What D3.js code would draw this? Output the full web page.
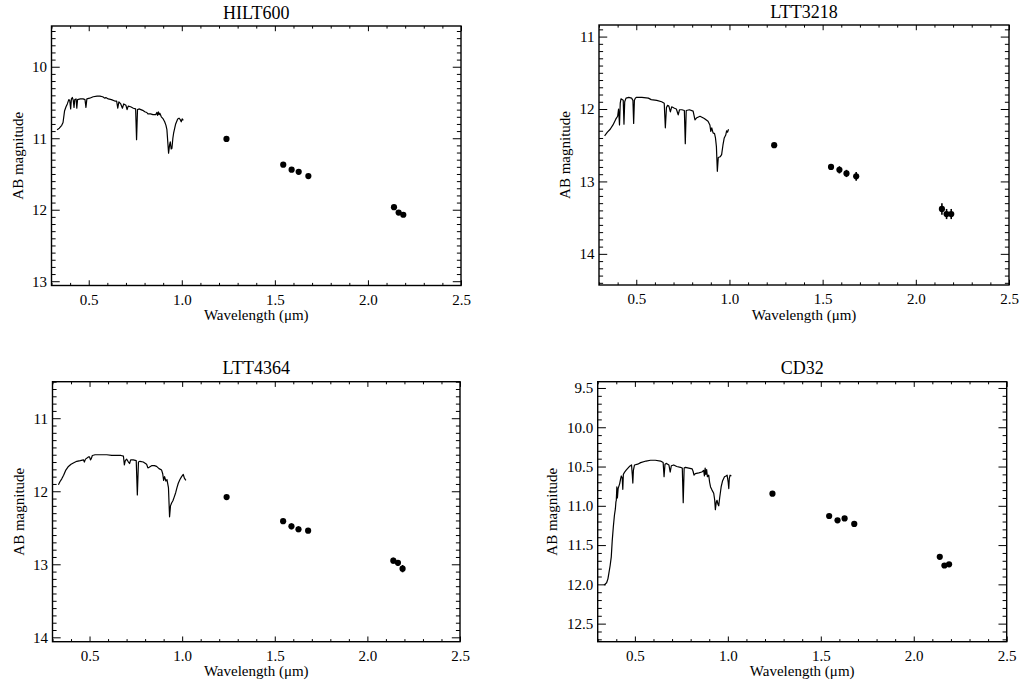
<!DOCTYPE html>
<html><head><meta charset="utf-8">
<script src="https://cdn.jsdelivr.net/npm/d3@7"></script>
<style>
body{margin:0;background:#fff}
text{font-family:"Liberation Serif","Times New Roman",serif;fill:#000}
</style>
</head><body>
<svg id="c" width="1020" height="686"></svg>
<script>
// ---------------- DATA ----------------
const titles = ["HILT600", "LTT3218", "LTT4364", "CD32"];
const xTicks = [0.5, 1.0, 1.5, 2.0, 2.5];
const xRange = [0.3, 2.5];

// photometric band wavelengths (micron)
const photWave = [1.24, 1.545, 1.59, 1.628, 1.68, 2.14, 2.165, 2.19];

const hilt600PhotMag = [11.01, 11.37, 11.44, 11.47, 11.53, 11.965, 12.04, 12.07];
const hilt600PhotErr = [0.01, 0.015, 0.015, 0.015, 0.015, 0.02, 0.02, 0.02];
const ltt3218PhotMag = [12.50, 12.80, 12.84, 12.89, 12.93, 13.38, 13.45, 13.45];
const ltt3218PhotErr = [0.02, 0.04, 0.05, 0.05, 0.06, 0.08, 0.07, 0.07];
const ltt4364PhotMag = [12.08, 12.41, 12.48, 12.52, 12.54, 12.95, 12.98, 13.06];
const ltt4364PhotErr = [0.02, 0.03, 0.04, 0.04, 0.03, 0.04, 0.04, 0.05];
const cd32PhotMag = [10.845, 11.13, 11.185, 11.16, 11.23, 11.65, 11.76, 11.745];
const cd32PhotErr = [0.01, 0.015, 0.015, 0.015, 0.015, 0.02, 0.02, 0.02];

// spectra
const hilt600SpecWave = [0.330,0.342,0.355,0.362,0.370,0.378,0.385,0.393,0.398,0.403,0.407,0.412,0.417,0.421,0.425,0.432,0.436,0.440,0.455,0.470,0.480,0.485,0.490,0.505,0.524,0.545,0.560,0.575,0.587,0.592,0.605,0.622,0.640,0.650,0.656,0.662,0.672,0.681,0.688,0.700,0.706,0.712,0.725,0.740,0.752,0.757,0.762,0.770,0.790,0.801,0.812,0.818,0.832,0.845,0.860,0.866,0.870,0.874,0.878,0.882,0.890,0.900,0.908,0.915,0.920,0.929,0.934,0.938,0.943,0.947,0.952,0.956,0.962,0.967,0.978,0.985,0.992,0.997,1.002,1.008];
const hilt600SpecMag  = [10.88,10.86,10.82,10.78,10.62,10.56,10.52,10.46,10.47,10.59,10.45,10.43,10.47,10.57,10.46,10.45,10.58,10.46,10.45,10.45,10.46,10.57,10.45,10.44,10.42,10.41,10.41,10.42,10.44,10.43,10.45,10.46,10.48,10.48,10.58,10.49,10.52,10.58,10.52,10.54,10.60,10.55,10.56,10.58,10.59,11.02,10.60,10.59,10.61,10.63,10.64,10.66,10.66,10.67,10.67,10.64,10.68,10.63,10.67,10.65,10.70,10.73,10.77,10.82,10.88,11.21,11.10,11.05,11.15,11.14,11.00,10.93,10.86,10.80,10.73,10.72,10.74,10.77,10.73,10.75];

const ltt3218SpecWave = [0.330,0.345,0.360,0.375,0.390,0.400,0.405,0.410,0.414,0.418,0.424,0.430,0.434,0.438,0.445,0.460,0.475,0.482,0.486,0.490,0.495,0.500,0.530,0.565,0.580,0.610,0.636,0.650,0.656,0.662,0.668,0.675,0.683,0.690,0.705,0.715,0.725,0.732,0.745,0.758,0.763,0.768,0.785,0.805,0.815,0.825,0.842,0.865,0.885,0.895,0.900,0.905,0.912,0.920,0.925,0.930,0.935,0.940,0.950,0.958,0.965,0.972,0.980,0.985,0.990,0.995];
const ltt3218SpecMag  = [12.37,12.32,12.28,12.22,12.14,12.10,12.00,12.22,11.92,11.86,11.87,11.88,12.21,11.90,11.85,11.84,11.85,11.88,12.20,11.88,11.85,11.84,11.84,11.85,11.87,11.88,11.90,11.92,12.26,11.98,11.95,11.96,12.04,11.97,11.99,12.00,12.08,12.01,12.01,12.02,12.48,12.02,12.01,12.03,12.15,12.12,12.10,12.13,12.17,12.22,12.31,12.26,12.33,12.34,12.40,12.52,12.86,12.67,12.66,12.63,12.50,12.40,12.36,12.30,12.32,12.28];

const ltt4364SpecWave = [0.332,0.340,0.350,0.360,0.372,0.386,0.400,0.415,0.431,0.450,0.467,0.472,0.478,0.494,0.500,0.505,0.510,0.515,0.530,0.560,0.593,0.620,0.650,0.670,0.683,0.688,0.693,0.700,0.710,0.716,0.722,0.736,0.752,0.758,0.764,0.772,0.790,0.808,0.815,0.822,0.835,0.850,0.862,0.875,0.889,0.895,0.900,0.905,0.912,0.918,0.926,0.932,0.937,0.943,0.950,0.957,0.965,0.972,0.979,0.988,0.997,1.006,1.012,1.020];
const ltt4364SpecMag  = [11.91,11.87,11.83,11.78,11.71,11.66,11.63,11.61,11.59,11.58,11.57,11.60,11.56,11.53,11.53,11.57,11.55,11.51,11.50,11.50,11.50,11.51,11.51,11.51,11.52,11.64,11.58,11.56,11.60,11.62,11.57,11.57,11.58,12.05,11.60,11.59,11.60,11.63,11.68,11.67,11.65,11.65,11.66,11.69,11.71,11.76,11.85,11.80,11.86,11.84,11.95,12.35,12.20,12.16,12.13,12.08,12.02,11.95,11.89,11.84,11.80,11.77,11.82,11.85];

const cd32SpecWave = [0.334,0.348,0.355,0.360,0.367,0.373,0.378,0.384,0.390,0.395,0.398,0.400,0.403,0.406,0.410,0.414,0.418,0.423,0.427,0.432,0.435,0.438,0.445,0.452,0.459,0.470,0.482,0.486,0.489,0.492,0.498,0.515,0.531,0.560,0.584,0.610,0.638,0.652,0.657,0.662,0.670,0.683,0.690,0.696,0.709,0.725,0.745,0.755,0.760,0.765,0.772,0.790,0.808,0.813,0.818,0.825,0.844,0.860,0.870,0.874,0.878,0.882,0.886,0.890,0.897,0.902,0.907,0.915,0.924,0.929,0.933,0.938,0.942,0.947,0.951,0.956,0.964,0.972,0.982,0.990,0.996,1.002,1.005,1.008,1.012,1.019];
const cd32SpecMag  = [12.01,11.98,11.93,11.86,11.76,11.65,11.45,11.27,11.12,11.04,10.95,10.93,10.76,10.90,10.78,10.75,10.72,10.66,10.62,10.65,10.79,10.60,10.57,10.55,10.53,10.50,10.48,10.60,10.71,10.55,10.48,10.47,10.45,10.43,10.42,10.42,10.43,10.45,10.63,10.47,10.46,10.48,10.57,10.49,10.48,10.50,10.51,10.52,10.96,10.52,10.51,10.52,10.53,10.56,10.61,10.59,10.58,10.57,10.55,10.62,10.52,10.60,10.54,10.63,10.61,10.70,10.76,10.80,10.84,10.92,11.05,10.95,10.93,10.98,11.00,10.90,10.76,10.68,10.63,10.62,10.61,10.70,10.78,10.65,10.61,10.62];

// y axes
const hilt600YRange = [9.43, 13.06];
const ltt3218YRange = [10.84, 14.43];
const ltt4364YRange = [10.50, 14.06];
const cd32YRange = [9.42, 12.73];
const hilt600YTicks = [10, 11, 12, 13];
const ltt3218YTicks = [11, 12, 13, 14];
const ltt4364YTicks = [11, 12, 13, 14];
const cd32YTicks = [9.5, 10.0, 10.5, 11.0, 11.5, 12.0, 12.5];

// ---------------- DRAWING ----------------
const svg = d3.select("#c");
const panels = [
  {box:[51.5, 461, 26, 285.5], specW:hilt600SpecWave, specM:hilt600SpecMag, pm:hilt600PhotMag, pe:hilt600PhotErr, yr:hilt600YRange, yt:hilt600YTicks, fmt:d3.format("d"), ylab:28.5},
  {box:[599, 1009, 25, 285], specW:ltt3218SpecWave, specM:ltt3218SpecMag, pm:ltt3218PhotMag, pe:ltt3218PhotErr, yr:ltt3218YRange, yt:ltt3218YTicks, fmt:d3.format("d"), ylab:29},
  {box:[52.5, 460, 381.7, 641.7], specW:ltt4364SpecWave, specM:ltt4364SpecMag, pm:ltt4364PhotMag, pe:ltt4364PhotErr, yr:ltt4364YRange, yt:ltt4364YTicks, fmt:d3.format("d"), ylab:29},
  {box:[597.7, 1006.7, 381.7, 641.7], specW:cd32SpecWave, specM:cd32SpecMag, pm:cd32PhotMag, pe:cd32PhotErr, yr:cd32YRange, yt:cd32YTicks, fmt:d3.format(".1f"), ylab:41}
];

function styleAxis(g, size){
  g.select(".domain").remove();
  g.selectAll("line").attr("stroke","#000").attr("stroke-width",1);
  g.attr("font-family",null).attr("font-size",null);
  g.selectAll("text").style("font-family",'"Liberation Serif","Times New Roman",serif').style("font-size",size+"px").attr("fill","#000");
}

panels.forEach((p, i) => {
  const [x0, x1, y0, y1] = p.box;
  const x = d3.scaleLinear().domain(xRange).range([x0, x1]);
  const y = d3.scaleLinear().domain(p.yr).range([y0, y1]);
  const g = svg.append("g");
  const xl = 0.0201*(y1-y0), yl = 0.0201*(x1-x0);

  const xMinor = d3.range(3, 26).map(v => v/10).filter(v => !xTicks.some(t => Math.abs(t-v)<1e-6));
  const yMinor = d3.range(Math.ceil(p.yr[0]*10), Math.floor(p.yr[1]*10)+1).map(v => v/10).filter(v => !p.yt.some(t => Math.abs(t-v)<1e-6));

  // bottom axis
  g.append("g").attr("transform",`translate(0,${y1})`)
    .call(d3.axisBottom(x).tickValues(xTicks).tickSize(-xl).tickPadding(8.5).tickFormat(d3.format(".1f")))
    .call(a=>styleAxis(a,15));
  g.append("g").attr("transform",`translate(0,${y1})`)
    .call(d3.axisBottom(x).tickValues(xMinor).tickSize(-xl/2).tickFormat(""))
    .call(a=>styleAxis(a,15));
  // top axis
  g.append("g").attr("transform",`translate(0,${y0})`)
    .call(d3.axisTop(x).tickValues(xTicks).tickSize(-xl).tickFormat(""))
    .call(a=>styleAxis(a,15));
  g.append("g").attr("transform",`translate(0,${y0})`)
    .call(d3.axisTop(x).tickValues(xMinor).tickSize(-xl/2).tickFormat(""))
    .call(a=>styleAxis(a,15));
  // left axis
  g.append("g").attr("transform",`translate(${x0},0)`)
    .call(d3.axisLeft(y).tickValues(p.yt).tickSize(-yl).tickPadding(4.5).tickFormat(p.fmt))
    .call(a=>styleAxis(a,15));
  g.append("g").attr("transform",`translate(${x0},0)`)
    .call(d3.axisLeft(y).tickValues(yMinor).tickSize(-yl/2).tickFormat(""))
    .call(a=>styleAxis(a,15));
  // right axis
  g.append("g").attr("transform",`translate(${x1},0)`)
    .call(d3.axisRight(y).tickValues(p.yt).tickSize(-yl).tickFormat(""))
    .call(a=>styleAxis(a,15));
  g.append("g").attr("transform",`translate(${x1},0)`)
    .call(d3.axisRight(y).tickValues(yMinor).tickSize(-yl/2).tickFormat(""))
    .call(a=>styleAxis(a,15));

  // frame
  g.append("rect").attr("x",x0).attr("y",y0).attr("width",x1-x0).attr("height",y1-y0)
    .attr("fill","none").attr("stroke","#000").attr("stroke-width",1.4);

  // spectrum
  const spec = p.specW.map((w,k)=>[w, p.specM[k]]);
  g.append("path").datum(spec)
    .attr("d", d3.line().x(d=>x(d[0])).y(d=>y(d[1])))
    .attr("fill","none").attr("stroke","#000").attr("stroke-width",1.2).attr("stroke-linejoin","round");

  // photometry with error bars
  const phot = photWave.map((w,k)=>({w, m:p.pm[k], e:p.pe[k]}));
  g.selectAll(".eb").data(phot).enter().append("line")
    .attr("x1",d=>x(d.w)).attr("x2",d=>x(d.w))
    .attr("y1",d=>y(d.m-d.e)).attr("y2",d=>y(d.m+d.e))
    .attr("stroke","#000").attr("stroke-width",1.6);
  g.selectAll(".pt").data(phot).enter().append("circle")
    .attr("cx",d=>x(d.w)).attr("cy",d=>y(d.m)).attr("r",3.1).attr("fill","#000");

  // title
  g.append("text").attr("x",(x0+x1)/2).attr("y",y0-7.5).attr("text-anchor","middle")
    .style("font-size","18px").text(titles[i]);
  // x label
  g.append("text").attr("x",(x0+x1)/2).attr("y",y1+34.5).attr("text-anchor","middle")
    .style("font-size","15px").text("Wavelength (μm)");
  // y label
  g.append("text").attr("transform",`translate(${x0-p.ylab},${(y0+y1)/2}) rotate(-90)`)
    .attr("text-anchor","middle").style("font-size","15px").text("AB magnitude");
});
</script>
</body></html>
